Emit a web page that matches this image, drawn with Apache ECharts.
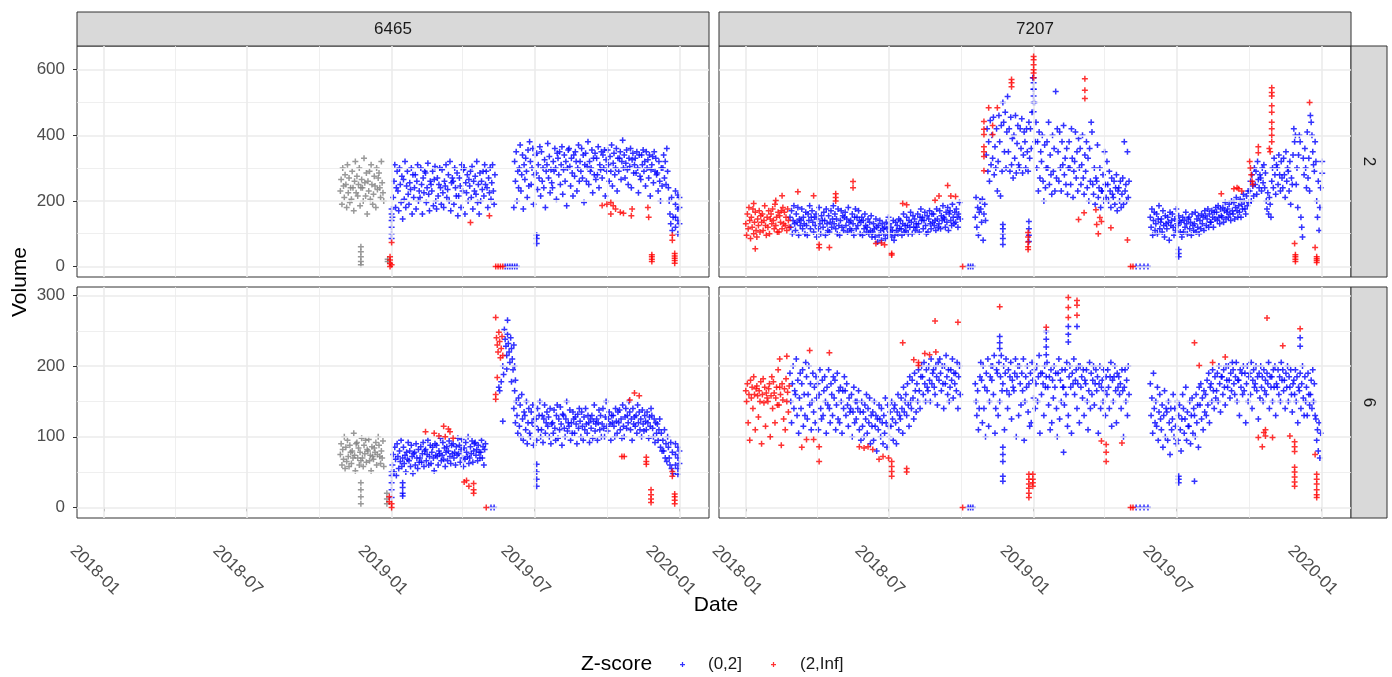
<!DOCTYPE html>
<html>
<head>
<meta charset="utf-8">
<script src="https://cdn.jsdelivr.net/npm/echarts@6/dist/echarts.min.js"></script>
<style>
  html, body { margin: 0; background: #fff; }
  #chart { width: 1392px; height: 677px; }
</style>
</head>
<body>
<div id="chart"></div>
<script>
// facets: column = id (6465, 7207), row = hour (2, 6)
const colLabels = ['6465', '7207'];
const rowLabels = ['2', '6'];

// axis breaks
const xMajor = ['2018-01-01', '2018-07-01', '2019-01-01', '2019-07-01', '2020-01-01'];
const xMinor = ['2018-04-01', '2018-10-01', '2019-04-01', '2019-10-01'];
const yMajorRow1 = [0, 200, 400, 600];
const yMinorRow1 = [100, 300, 500];
const yMajorRow2 = [0, 100, 200, 300];
const yMinorRow2 = [50, 150, 250];

// ---- 6465 / 2 ----
const a2GreyStart = '2018-10-28';
const a2GreyWeeks = [
  [230,265,190,300,245,210,280],[250,180,310,225,270,195,240],[205,290,240,170,260,320,225],
  [275,215,250,300,185,240,265],[240,200,330,255,215,285,160],[260,230,290,205,310,250,190],
  [220,275,245,180,300,235,270],[285,240,210,320,255,225,200]
];
const a2GreyStacks = [['2018-11-23',[60,45,30,15,5]],['2018-12-27',[15,22]]];
const a2Blue1Start = '2019-01-02';
const a2Blue1Weeks = [
  [150,210,260,310,180,240,290],[230,170,300,250,195,275,145],[265,205,320,180,245,290,220],
  [190,255,235,300,160,280,210],[240,280,175,260,310,200,230],[210,300,250,160,270,225,290],
  [285,195,240,315,220,170,260],[250,230,290,185,265,305,200],[175,270,215,250,300,240,190],
  [295,225,180,260,245,310,210],[235,280,200,320,170,255,270],[260,190,300,240,215,285,155],
  [215,270,245,180,310,230,295],[300,160,255,225,280,200,265],[245,290,210,305,175,260,230],
  [275,220,320,195,250,160,285],[200,260,235,290,215,310,250],[290,240,180,270,225,300,205],
  [255,310,230,190,280]
];
const a2Blue2Start = '2019-06-05';
const a2Blue2Weeks = [
  [180,320,260,350,200,290,240],[300,370,230,280,340,175,310],[265,330,290,210,355,245,380],
  [320,250,300,360,190,280,340],[285,345,235,310,270,365,215],[350,260,300,240,325,180,290],
  [310,375,270,335,225,295,255],[240,320,290,360,300,205,345],[330,280,350,250,310,365,220],
  [295,340,260,320,185,300,355],[360,305,245,330,285,215,340],[275,350,320,230,300,370,260],
  [320,290,360,270,340,195,310],[345,260,305,380,250,320,290],[300,355,225,330,280,345,265],
  [330,280,365,240,310,295,350],[270,340,300,355,215,325,290],[355,310,260,335,290,370,245],
  [315,345,280,300,360,230,330],[290,330,350,265,320,385,300],[340,270,315,355,295,250,330],
  [305,360,240,325,345,285,310],[330,285,350,300,225,340,275],[265,340,310,355,290,320,245],
  [350,300,325,270,340,215,295],[310,335,255,350,290,330,280],[285,230,320,260,200,300,245],
  [300,340,270,320,250,360,290],[240,200,160,130,210,110,150]
];
const a2BlueStacks = [
  ['2019-01-01',[85,100,120,140,160,175]],['2019-05-25',[0]],['2019-05-28',[0]],['2019-05-31',[0]],
  ['2019-06-03',[0]],['2019-06-06',[0]],['2019-06-09',[0]],['2019-07-04',[70,85,95]],
  ['2019-12-27',[230,190,150,120]],['2019-12-30',[218,175,140,100]],['2020-01-01',[210,180,130]]
];
const a2RedStacks = [
  ['2018-12-30',[0,10,20,30]],['2019-01-01',[73,5]],['2019-04-11',[134]],['2019-05-05',[155]],
  ['2019-05-13',[0]],['2019-05-16',[0]],['2019-05-19',[0]],['2019-05-22',[0]],
  ['2019-09-25',[186]],['2019-10-01',[190]],['2019-10-06',[195,160]],['2019-10-09',[185]],
  ['2019-10-12',[175]],['2019-10-18',[165]],['2019-10-22',[162]],['2019-11-01',[155]],
  ['2019-11-02',[175]],['2019-11-22',[180]],['2019-11-23',[150]],['2019-11-27',[15,22,30,36]],
  ['2019-12-23',[95,80]],['2019-12-26',[10,18,25,32,40]]
];

// ---- 6465 / 6 ----
const a6GreyStart = '2018-10-28';
const a6GreyWeeks = [
  [75,90,60,82,68,100,55],[85,65,95,72,58,88,78],[62,80,70,105,74,52,90],[92,70,84,60,78,66,98],
  [70,58,88,76,95,64,82],[80,96,66,74,52,86,72],[68,84,78,92,60,75,100],[88,72,62,80,70,94,58]
];
const a6GreyStacks = [['2018-11-23',[35,25,15,5]],['2018-12-26',[20,12,5]]];
const a6Blue1Start = '2019-01-02';
const a6Blue1Weeks = [
  [60,75,50,85,68,45,90],[72,55,80,65,95,58,70],[85,62,74,50,78,68,92],[66,80,58,88,72,48,76],
  [78,60,90,70,55,82,64],[70,86,64,76,92,58,80],[82,66,75,95,60,72,88],[62,78,85,70,52,90,74],
  [88,72,60,80,76,98,66],[74,92,68,84,58,78,86],[66,80,94,72,62,88,76],[90,70,78,60,86,74,98],
  [76,88,64,82,96,70,58],[84,68,92,78,72,100,62],[70,86,76,94,64,80,90],[92,74,82,66,88,78,70],
  [78,95,70,86,60,82,90]
];
const a6Blue2Start = '2019-06-05';
const a6Blue2Weeks = [
  [140,165,120,150,130,105,155],[115,145,100,160,125,95,135],[130,110,150,90,120,140,105],
  [100,135,120,145,88,125,115],[125,95,140,110,130,150,100],[110,130,92,125,145,105,120],
  [135,115,128,100,140,90,118],[120,105,138,112,95,130,145],[98,125,110,142,118,88,132],
  [130,112,100,125,150,108,120],[115,138,95,120,105,135,125],[105,128,118,90,132,112,140],
  [122,100,135,115,95,128,110],[140,118,105,130,120,92,125],[112,130,98,122,145,108,118],
  [125,95,120,138,110,130,100],[118,140,112,100,128,150,115],[108,125,135,118,95,130,120],
  [130,115,100,140,122,105,135],[120,138,110,125,98,145,115],[100,128,140,112,130,120,150],
  [135,110,125,95,140,118,128],[115,130,105,145,120,135,110],[125,100,138,118,108,130,122],
  [110,135,120,98,128,115,140],[130,112,100,125,92,120,105],[118,95,110,125,85,105,80],
  [95,80,110,70,90,65,100],[85,70,60,92,55,78,48]
];
const a6BlueStacks = [
  ['2019-01-01',[14,25,35,45,50]],['2019-01-15',[35,28,20,16]],['2019-05-07',[0]],['2019-05-11',[0]],
  ['2019-05-17',[170]],['2019-05-18',[165]],['2019-05-20',[178]],['2019-05-22',[200,122]],
  ['2019-05-23',[188]],['2019-05-24',[252]],['2019-05-25',[238]],['2019-05-26',[228]],
  ['2019-05-27',[215,196]],['2019-05-28',[265,245]],['2019-05-29',[232]],['2019-05-30',[220]],
  ['2019-05-31',[205]],['2019-06-01',[240]],['2019-06-02',[225,178]],['2019-06-03',[210]],
  ['2019-06-04',[195]],['2019-06-05',[230]],['2019-06-06',[200]],['2019-06-07',[180]],
  ['2019-07-04',[61,50,40,30]],['2019-12-27',[90,75,60]],['2019-12-30',[85,70,55,47]],['2020-01-01',[80,62]]
];
const a6RedStacks = [
  ['2018-12-29',[15,8]],['2019-01-01',[0,5]],['2019-02-13',[107]],['2019-02-24',[105]],
  ['2019-03-02',[101]],['2019-03-08',[115]],['2019-03-10',[100]],['2019-03-14',[111]],
  ['2019-03-16',[107]],['2019-03-20',[98]],['2019-04-03',[36]],['2019-04-06',[38]],
  ['2019-04-09',[30]],['2019-04-15',[34,25,20]],['2019-05-01',[0]],
  ['2019-05-13',[269,160,153]],['2019-05-14',[240]],['2019-05-15',[230,184]],['2019-05-16',[220]],
  ['2019-05-17',[248]],['2019-05-18',[235]],['2019-05-19',[212]],['2019-05-20',[225]],
  ['2019-05-21',[242]],['2019-05-22',[215]],['2019-10-20',[72]],['2019-10-23',[72]],
  ['2019-10-30',[152]],['2019-11-05',[162]],['2019-11-11',[158]],['2019-11-20',[71,65,61]],
  ['2019-11-26',[7,12,18,25]],['2019-12-23',[51,44]],['2019-12-26',[5,10,15,19]]
];

// ---- 7207 / 2 ----
const b2RedStart = '2018-01-01';
const b2RedWeeks = [
  [130,95,160,115,180,140,85],[150,120,175,100,135,165,110],[90,145,125,170,105,155,135],
  [160,110,140,185,125,95,150],[120,170,100,145,160,130,175],[140,115,190,125,150,105,165],
  [105,155,135,170,115,180,130],[165,125,150,110,175,140,120]
];
const b2Blue1Start = '2018-02-26';
const b2Blue1Weeks = [
  [150,120,170,100,140,185,130],[110,160,135,180,95,145,125],[140,175,115,150,130,100,165],
  [125,95,160,140,185,115,150],[170,135,105,150,125,160,90],[145,115,180,130,100,155,140],
  [120,165,140,95,175,130,110],[155,105,135,170,120,145,185],[130,160,115,145,100,175,125],
  [95,140,170,120,155,110,150],[165,125,145,105,180,135,115],[140,110,160,130,95,150,175],
  [115,150,125,170,140,100,135],[150,95,140,115,160,125,105],[120,145,100,135,110,155,90],
  [105,130,115,90,145,120,75],[125,95,140,110,80,130,115],[100,120,85,135,115,95,150],
  [130,105,120,90,110,140,80],[95,135,110,125,100,145,115],[140,115,95,130,160,105,125],
  [110,150,125,100,140,120,165],[135,100,155,120,145,110,130],[120,160,130,105,150,175,140],
  [150,115,140,165,125,100,155],[105,145,170,130,115,160,135],[160,125,140,110,175,145,120],
  [130,170,115,155,140,185,150],[145,120,165,135,180,110,160],[170,140,125,190,150,130,165],
  [135,175,150,120,160,195,145]
];
const b2Blue2Start = '2018-10-19';
const b2Blue2Weeks = [
  [150,210,120,180,95,165,200],[175,135,205,80,160,190,140],[340,420,290,380,260,445,310],
  [400,330,455,280,365,300,420],[230,320,460,380,215,430,290],[500,440,350,470,300,410,518],
  [350,420,290,455,310,390,270],[400,330,460,285,375,430,310],[300,420,360,450,285,340,410],
  [380,300,420,350,290,440,330],[420,360,470,575,540,500,380],[440,300,380,230,410,270,350],
  [320,400,260,200,370,240,300],[380,300,440,250,340,280,220],[400,290,360,230,533,270,420],
  [350,260,410,300,230,380,310],[430,280,330,250,360,220,300],[380,300,250,420,330,210,290],
  [320,410,270,350,230,390,300],[360,250,310,400,270,220,340],[290,380,240,330,200,360,260],
  [440,410,250,220,300,190,270],[260,370,210,240,300,180,230],[230,280,200,350,250,210,320],
  [250,200,290,230,180,270,220],[210,260,190,240,280,170,230],[240,200,260,180,220,270,190],
  [380,230,250,200,350,210,260]
];
const b2Blue3Start = '2019-05-29';
const b2Blue3Weeks = [
  [150,120,175,95,140,165,110],[130,160,100,145,185,115,135],[145,105,170,125,90,155,130],
  [115,150,135,80,165,125,140],[160,120,95,145,110,175,130],[125,155,140,105,135,90,150],
  [105,140,120,165,130,100,145],[150,115,135,95,160,125,110],[130,165,105,145,120,155,100],
  [140,115,160,130,150,110,170],[155,125,145,175,120,160,135],[135,170,150,120,165,145,180],
  [165,140,185,150,130,175,155],[150,180,135,170,195,145,165],[175,150,190,160,140,200,170],
  [160,195,145,180,210,170,150],[185,165,205,150,190,175,220],[200,175,160,215,185,230,195],
  [230,260,200,280,245,215,300],[250,290,220,320,265,240,280],[270,230,300,255,310,240,285],
  [200,175,225,160,210,190,150],[260,300,240,330,280,220,310],[300,250,340,280,230,320,270],
  [240,330,280,210,350,260,300],[290,230,320,190,270,250,340],[420,380,400,250,300,180,340],
  [400,380,150,120,90,330,280],[360,300,240,410,270,330,230],[460,440,400,350,310,290,380],
  [320,200,150,260,110,180,240]
];
const b2BlueStacks = [
  ['2018-10-10',[0]],['2018-10-13',[0]],['2018-10-16',[0]],['2018-11-23',[67,85,100,115,128]],
  ['2018-12-26',[76,95,115,137]],['2019-01-01',[575,560,540,520,500,472]],
  ['2019-05-11',[0]],['2019-05-16',[0]],['2019-05-21',[0]],['2019-05-26',[0]],
  ['2019-07-04',[30,40,52]],['2020-01-02',[320,284]]
];
const b2RedStacks = [
  ['2018-01-11',[192]],['2018-01-13',[54]],['2018-02-08',[201]],['2018-02-16',[216]],
  ['2018-03-08',[228]],['2018-03-28',[216]],['2018-04-04',[67,57]],['2018-04-17',[58]],
  ['2018-04-25',[222,210,200]],['2018-05-17',[259,240]],['2018-06-15',[70]],['2018-06-22',[72]],
  ['2018-06-26',[66]],['2018-07-05',[40,35]],['2018-07-19',[192]],['2018-07-24',[188]],
  ['2018-08-29',[202]],['2018-09-03',[215]],['2018-09-14',[247]],['2018-09-18',[215]],
  ['2018-09-24',[213]],['2018-10-03',[0]],
  ['2018-10-30',[442,418,402,365,350,335,292]],['2018-11-05',[484]],['2018-11-10',[430,402]],
  ['2018-11-16',[484]],['2018-12-04',[570,560,548]],['2018-12-25',[104,90,75,60,52]],
  ['2019-01-01',[640,630,615,600,590,575]],['2019-02-27',[143]],['2019-03-06',[164]],
  ['2019-03-07',[572,537,512]],['2019-03-21',[173]],['2019-03-22',[128]],['2019-03-24',[100]],
  ['2019-03-26',[149]],['2019-03-28',[137]],['2019-04-09',[118]],['2019-04-30',[81]],
  ['2019-05-04',[0]],['2019-05-07',[0]],
  ['2019-08-27',[222]],['2019-09-12',[237]],['2019-09-16',[240]],['2019-09-18',[237]],
  ['2019-09-22',[230]],['2019-10-02',[320]],['2019-10-03',[300]],['2019-10-04',[280]],
  ['2019-10-05',[260]],['2019-10-06',[250]],['2019-10-13',[365,347]],['2019-10-27',[360]],
  ['2019-10-28',[350]],['2019-10-30',[545,530,520,490,470,440,420,400,380]],['2019-11-28',[70]],
  ['2019-11-29',[15,22,30,36]],['2019-12-17',[500]],['2019-12-24',[58]],['2019-12-26',[12,18,24,30]]
];

// ---- 7207 / 6 ----
const b6RedStart = '2018-01-01';
const b6RedWeeks = [
  [165,150,175,120,160,95,180],[155,170,140,185,160,110,168],[172,158,128,165,150,178,90],
  [160,182,148,170,115,162,155],[150,168,175,100,158,185,140],[178,162,120,155,170,145,195],
  [145,170,160,88,175,152,125],[168,110,182,150,163,135,172]
];
const b6Blue1Start = '2018-02-26';
const b6Blue1Weeks = [
  [190,150,120,175,200,140,165],[160,210,130,180,105,155,190],[140,175,195,115,160,130,205],
  [185,125,160,200,145,175,110],[150,190,135,170,120,185,155],[175,110,160,195,140,125,180],
  [130,165,185,150,105,170,145],[195,140,120,175,160,130,185],[155,180,110,145,190,125,165],
  [120,170,150,105,165,140,185],[165,130,175,145,115,155,135],[140,160,100,135,170,120,150],
  [125,150,140,165,110,135,95],[150,115,135,100,145,125,160],[105,140,120,155,90,130,115],
  [135,95,150,115,130,80,125],[110,145,125,100,140,120,90],[130,105,155,120,85,145,115],
  [100,135,115,150,125,95,140],[145,120,90,135,160,110,130],[125,155,140,105,170,135,150],
  [160,130,175,145,115,185,150],[140,180,155,125,190,165,135],[175,150,195,165,140,185,200],
  [185,160,205,175,150,195,170],[165,200,180,150,210,175,190],[195,170,160,200,185,145,205],
  [180,210,190,165,200,175,140],[200,175,215,185,160,195,150],[170,195,180,210,155,190,175],
  [190,165,205,140,185,200,160]
];
const b6Blue2Start = '2018-10-19';
const b6Blue2Weeks = [
  [175,150,130,165,110,140,185],[205,180,120,200,140,170,100],[190,165,210,115,150,185,200],
  [180,200,160,215,105,140,195],[190,130,205,150,185,215,165],[175,200,110,190,210,165,140],
  [195,160,185,205,125,180,170],[165,190,210,100,185,200,130],[200,175,145,190,165,210,95],
  [150,185,170,200,135,175,115],[190,120,205,180,155,195,140],[175,200,150,185,215,105,190],
  [160,190,175,130,200,170,185],[205,170,145,185,110,195,120],[180,155,200,170,190,140,100],
  [190,210,125,180,150,195,170],[170,145,195,160,205,115,130],[185,200,170,105,190,175,210],
  [160,180,195,140,175,200,120],[200,170,185,155,195,130,180],[175,195,150,110,165,205,140],
  [190,160,180,200,145,175,195],[165,185,105,175,200,140,170],[180,150,195,165,130,185,160],
  [195,170,140,185,205,115,180],[150,185,200,165,120,190,170],[185,160,175,140,195,165,100],
  [170,195,150,180,130,200,160]
];
const b6Blue3Start = '2019-05-29';
const b6Blue3Weeks = [
  [175,130,155,105,190,140,120],[150,115,170,95,135,160,125],[110,145,85,130,165,100,140],
  [135,95,150,120,75,140,110],[125,160,100,140,115,90,150],[95,130,145,110,80,125,160],
  [140,105,125,170,95,135,115],[115,150,90,130,155,105,140],[130,100,160,120,145,85,170],
  [145,175,125,155,110,165,135],[160,130,180,145,190,120,170],[175,150,195,165,140,185,155],
  [165,190,150,200,175,135,185],[185,160,195,170,145,200,180],[170,200,180,155,190,165,205],
  [195,175,160,185,205,150,180],[180,130,195,170,190,160,200],[165,190,120,175,200,150,185],
  [190,160,205,140,180,195,170],[175,200,165,185,125,190,155],[200,170,185,150,195,165,180],
  [160,190,175,205,140,185,170],[185,150,195,170,200,130,175],[170,195,160,185,150,205,180],
  [195,165,180,140,190,170,200],[150,185,170,195,160,135,175],[180,160,195,150,185,120,170],
  [165,190,140,175,200,155,130],[185,150,170,130,190,160,145],[160,180,140,195,150,175,130],
  [125,95,110,80,120,70,105]
];
const b6BlueStacks = [
  ['2018-10-10',[0]],['2018-10-13',[0]],['2018-10-16',[0]],['2018-11-19',[242,233,225]],
  ['2018-11-23',[85,75,65,44,37]],['2019-01-17',[249,238,227,216]],['2019-02-14',[256,245,234]],
  ['2019-02-25',[256]],['2019-02-08',[78]],['2019-05-11',[0]],['2019-05-16',[0]],
  ['2019-05-21',[0]],['2019-05-26',[0]],['2019-07-04',[44,40,35]],['2019-07-24',[37]],
  ['2019-12-05',[240,228]]
];
const b6RedStacks = [
  ['2018-02-13',[210]],['2018-02-22',[214]],['2018-03-13',[85]],['2018-03-19',[96]],
  ['2018-03-23',[222]],['2018-03-28',[96]],['2018-04-04',[86,65]],['2018-04-17',[219]],
  ['2018-05-25',[86]],['2018-05-31',[84]],['2018-06-05',[86]],['2018-06-11',[82]],
  ['2018-06-19',[68]],['2018-06-24',[72]],['2018-07-01',[70]],['2018-07-05',[65,58,51,44]],
  ['2018-07-19',[233]],['2018-07-24',[55,50]],['2018-08-02',[209]],['2018-08-08',[205,201]],
  ['2018-08-16',[218]],['2018-08-22',[216]],['2018-08-29',[264]],['2018-08-30',[220]],
  ['2018-09-27',[262]],['2018-10-03',[0]],
  ['2018-11-19',[284]],['2018-12-26',[47,40,33,27,20,14]],['2018-12-31',[47,40,35,30]],
  ['2019-01-17',[255]],['2019-02-14',[297,283,269]],['2019-02-25',[293,286,272]],
  ['2019-03-28',[94]],['2019-04-03',[89,78,65]],['2019-04-23',[91]],['2019-05-04',[0]],['2019-05-07',[0]],
  ['2019-07-24',[233]],['2019-07-30',[201]],['2019-08-16',[205]],['2019-09-01',[213]],
  ['2019-10-13',[99]],['2019-10-18',[86]],['2019-10-20',[106]],['2019-10-22',[101,110]],
  ['2019-10-24',[268]],['2019-10-31',[99]],['2019-11-13',[229]],['2019-11-22',[101]],
  ['2019-11-28',[93,86,79,57,50,43,36,30]],['2019-12-05',[253]],['2019-12-24',[75]],
  ['2019-12-26',[47,40,33,25,18,14]]
];

// ---------- helpers ----------
const DAY = 864e5;
const ts = s => Date.parse(s + 'T00:00:00Z');

// one value per day, week after week
function weekly(start, weeks) {
  const t0 = ts(start);
  const out = [];
  weeks.forEach((w, i) => w.forEach((v, j) => out.push([t0 + (7 * i + j) * DAY, v])));
  return out;
}
// several values on the same day
function stacks(list) {
  const out = [];
  list.forEach(([d, vals]) => vals.forEach(v => out.push([ts(d), v])));
  return out;
}

const panels = [
  { grey: weekly(a2GreyStart, a2GreyWeeks).concat(stacks(a2GreyStacks)),
    blue: weekly(a2Blue1Start, a2Blue1Weeks).concat(weekly(a2Blue2Start, a2Blue2Weeks), stacks(a2BlueStacks)),
    red: stacks(a2RedStacks) },
  { grey: [],
    blue: weekly(b2Blue1Start, b2Blue1Weeks).concat(weekly(b2Blue2Start, b2Blue2Weeks), weekly(b2Blue3Start, b2Blue3Weeks), stacks(b2BlueStacks)),
    red: weekly(b2RedStart, b2RedWeeks).concat(stacks(b2RedStacks)) },
  { grey: weekly(a6GreyStart, a6GreyWeeks).concat(stacks(a6GreyStacks)),
    blue: weekly(a6Blue1Start, a6Blue1Weeks).concat(weekly(a6Blue2Start, a6Blue2Weeks), stacks(a6BlueStacks)),
    red: stacks(a6RedStacks) },
  { grey: [],
    blue: weekly(b6Blue1Start, b6Blue1Weeks).concat(weekly(b6Blue2Start, b6Blue2Weeks), weekly(b6Blue3Start, b6Blue3Weeks), stacks(b6BlueStacks)),
    red: weekly(b6RedStart, b6RedWeeks).concat(stacks(b6RedStacks)) }
];

// ---------- layout ----------
const FONT = '"Liberation Sans", Arial, sans-serif';
const plus = 'path://M1.5,0L2.5,0L2.5,4L1.5,4Z M0,1.5L4,1.5L4,2.5L0,2.5Z';
const colLeft = [77, 719];
const panelW = 632;
const rowTop = [46, 287];
const panelH = 231;
const xMin = ts('2017-11-28');
const xMax = ts('2020-02-07') + DAY / 2;
const yRange = [[-32, 672], [-15, 312]];
const yMajor = [yMajorRow1, yMajorRow2];
const yMinor = [yMinorRow1, yMinorRow2];
const monthLabel = v => new Date(v).toISOString().slice(0, 7);

const grids = [], xAxes = [], yAxes = [], series = [];
for (let i = 0; i < 4; i++) {
  const row = Math.floor(i / 2), col = i % 2;
  grids.push({ left: colLeft[col], top: rowTop[row], width: panelW, height: panelH,
    show: true, borderColor: '#333', borderWidth: 1, backgroundColor: '#fff' });

  // dates kept as numeric timestamps on a value axis
  xAxes.push({
    type: 'value', gridIndex: i, min: xMin, max: xMax, scale: true,
    axisLine: { show: false }, splitLine: { show: false },
    axisTick: { show: row === 1, customValues: xMajor.map(ts), length: 4, lineStyle: { color: '#333' } },
    axisLabel: { show: row === 1, customValues: xMajor.map(ts), formatter: monthLabel,
      rotate: -45, align: 'center', verticalAlign: 'middle', margin: 61, padding: [0, 25, 0, 0],
      fontSize: 17, color: '#4d4d4d', fontFamily: FONT }
  });
  yAxes.push({
    type: 'value', gridIndex: i, min: yRange[row][0], max: yRange[row][1],
    axisLine: { show: false }, splitLine: { show: false },
    axisTick: { show: col === 0, customValues: yMajor[row], length: 4, lineStyle: { color: '#333' } },
    axisLabel: { show: col === 0, customValues: yMajor[row], margin: 12,
      fontSize: 17, color: '#4d4d4d', fontFamily: FONT }
  });

  const major = { color: '#ebebeb', width: 1.6, type: 'solid' };
  const minor = { color: '#ebebeb', width: 0.8, type: 'solid' };
  const lines = []
    .concat(xMajor.map(d => ({ xAxis: ts(d), lineStyle: major })))
    .concat(xMinor.map(d => ({ xAxis: ts(d), lineStyle: minor })))
    .concat(yMajor[row].map(v => ({ yAxis: v, lineStyle: major })))
    .concat(yMinor[row].map(v => ({ yAxis: v, lineStyle: minor })));
  series.push({
    type: 'scatter', name: 'grid', xAxisIndex: i, yAxisIndex: i, data: [], z: 1, silent: true,
    markLine: { silent: true, symbol: ['none', 'none'], label: { show: false }, animation: false, data: lines }
  });

  const p = panels[i];
  const common = { type: 'scatter', xAxisIndex: i, yAxisIndex: i, symbol: plus, symbolSize: 6, silent: true };
  if (p.grey.length) series.push(Object.assign({ name: 'NA', data: p.grey, z: 3, itemStyle: { color: '#7f7f7f' } }, common));
  series.push(Object.assign({ name: '(0,2]', data: p.blue, z: 4, itemStyle: { color: '#0000ff' } }, common));
  series.push(Object.assign({ name: '(2,Inf]', data: p.red, z: 5, itemStyle: { color: '#ff0000' } }, common));
}

// strips and titles
const graphic = [];
colLabels.forEach((lab, c) => {
  graphic.push({ type: 'rect', shape: { x: colLeft[c], y: 12, width: panelW, height: 34 },
    style: { fill: '#d9d9d9', stroke: '#333', lineWidth: 1 } });
  graphic.push({ type: 'text', x: colLeft[c] + panelW / 2, y: 29,
    style: { text: lab, align: 'center', verticalAlign: 'middle', fill: '#1a1a1a', font: '17px ' + FONT } });
});
rowLabels.forEach((lab, r) => {
  graphic.push({ type: 'rect', shape: { x: colLeft[1] + panelW, y: rowTop[r], width: 36, height: panelH },
    style: { fill: '#d9d9d9', stroke: '#333', lineWidth: 1 } });
  graphic.push({ type: 'text', x: colLeft[1] + panelW + 18, y: rowTop[r] + panelH / 2, rotation: -Math.PI / 2,
    style: { text: lab, align: 'center', verticalAlign: 'middle', fill: '#1a1a1a', font: '17px ' + FONT } });
});
graphic.push({ type: 'text', x: 20, y: 282, rotation: Math.PI / 2,
  style: { text: 'Volume', align: 'center', verticalAlign: 'middle', fill: '#000', font: '21px ' + FONT } });
graphic.push({ type: 'text', x: 716, y: 605,
  style: { text: 'Date', align: 'center', verticalAlign: 'middle', fill: '#000', font: '21px ' + FONT } });
graphic.push({ type: 'text', x: 581, y: 664,
  style: { text: 'Z-score', align: 'left', verticalAlign: 'middle', fill: '#000', font: '21px ' + FONT } });

// one legend per key so each sits where ggplot put it
const legendBase = { top: 656, padding: 0, itemWidth: 5, itemHeight: 5, icon: plus, selectedMode: false };
const legends = [
  Object.assign({ data: ['(0,2]'], left: 680, textStyle: { fontSize: 17, color: '#1a1a1a', fontFamily: FONT, padding: [0, 0, 0, 18] } }, legendBase),
  Object.assign({ data: ['(2,Inf]'], left: 771, textStyle: { fontSize: 17, color: '#1a1a1a', fontFamily: FONT, padding: [0, 0, 0, 19] } }, legendBase)
];

const chart = echarts.init(document.getElementById('chart'));
chart.setOption({
  animation: false,
  backgroundColor: '#fff',
  textStyle: { fontFamily: FONT },
  grid: grids,
  xAxis: xAxes,
  yAxis: yAxes,
  series: series,
  legend: legends,
  graphic: graphic
});
</script>
</body>
</html>
